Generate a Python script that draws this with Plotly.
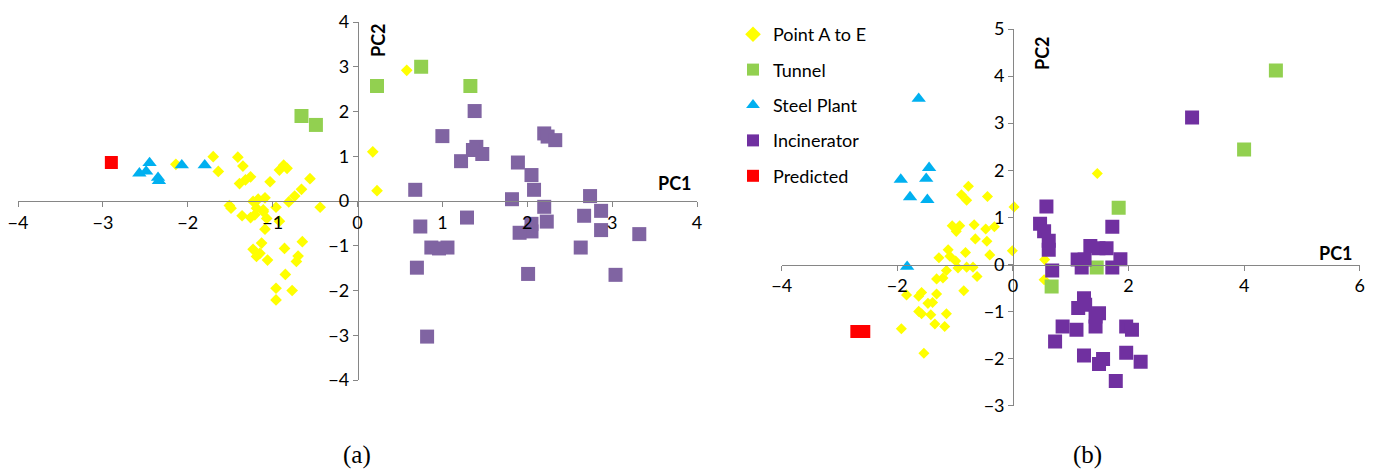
import plotly.graph_objects as go

# ---------------- Panel (a) data ----------------
a_pt_x = [-2.14, -1.70, -1.64, -1.41, -1.35, -1.39, -1.32, -1.26, -1.03, -0.92, -0.87, -0.83,
          -0.56, -0.66, -0.74, -0.81, -0.44, -1.23, -1.17, -1.09, -1.51, -1.49, -0.96, -1.36,
          -1.26, -1.21, -1.11, -1.07, -1.09, -0.92, -1.23, -1.19, -1.13, -1.15, -1.06, -0.86,
          -0.65, -0.70, -0.72, -0.85, -0.96, -0.77, -0.96, 0.18, 0.23, 0.58, -1.19, -1.11]
a_pt_y = [0.82, 0.99, 0.66, 0.98, 0.78, 0.39, 0.47, 0.54, 0.43, 0.69, 0.80, 0.73,
          0.50, 0.26, 0.11, -0.02, -0.14, -0.01, 0.04, 0.07, -0.10, -0.16, -0.14, -0.33,
          -0.37, -0.31, -0.24, -0.39, -0.63, -0.45, -1.08, -1.24, -0.94, -1.17, -1.32, -1.06,
          -0.91, -1.23, -1.35, -1.64, -1.95, -2.00, -2.21, 1.10, 0.23, 2.92, -0.16, -0.20]

a_tun_x = [-0.66, -0.49, 0.75, 0.23, 1.33]
a_tun_y = [1.90, 1.70, 3.00, 2.57, 2.57]

a_stl_x = [-2.57, -2.49, -2.45, -2.35, -2.34, -2.07, -1.80]
a_stl_y = [0.62, 0.66, 0.85, 0.52, 0.45, 0.80, 0.80]

a_inc_x = [1.38, 1.00, 1.40, 1.36, 1.47, 1.22, 2.20, 2.24, 2.33, 1.89, 2.05, 2.08, 0.68, 1.82,
           2.74, 2.20, 2.23, 2.67, 2.87, 1.29, 0.74, 2.05, 2.05, 1.91, 2.87, 3.32, 0.87, 0.96,
           1.06, 2.63, 0.70, 2.01, 3.04, 0.82]
a_inc_y = [2.01, 1.45, 1.21, 1.14, 1.05, 0.89, 1.51, 1.44, 1.36, 0.86, 0.58, 0.25, 0.25, 0.04,
           0.11, -0.13, -0.46, -0.33, -0.22, -0.37, -0.57, -0.51, -0.68, -0.71, -0.65, -0.74, -1.04, -1.06,
           -1.04, -1.04, -1.49, -1.63, -1.65, -3.03]

a_pred_x = [-2.90]
a_pred_y = [0.86]

# ---------------- Panel (b) data ----------------
b_pt_x = [0.02, -0.01, 0.55, 0.54, 1.46, -0.77, -0.89, -0.80, -0.44, -1.05, -0.92, -0.98, -0.67,
          -0.47, -0.32, -0.65, -0.45, -0.40, -0.82, -1.12, -1.28, -1.09, -0.99, -0.95, -0.80,
          -0.69, -0.62, -1.15, -1.32, -1.21, -0.85, -1.84, -1.63, -1.58, -1.32, -1.47, -1.39,
          -1.63, -1.58, -1.42, -1.15, -1.35, -1.18, -1.93, -1.54]
b_pt_y = [1.22, 0.29, 0.10, -0.33, 1.93, 1.66, 1.48, 1.36, 1.44, 0.82, 0.82, 0.70, 0.84,
          0.75, 0.80, 0.54, 0.49, 0.20, 0.25, 0.31, 0.14, 0.17, 0.07, -0.08, -0.06,
          -0.06, -0.26, -0.13, -0.31, -0.29, -0.56, -0.65, -0.68, -0.60, -0.63, -0.83, -0.81,
          -1.00, -1.05, -1.07, -1.05, -1.27, -1.32, -1.37, -1.89]

b_tun_x = [4.55, 4.00, 1.83, 1.45, 0.67]
b_tun_y = [4.12, 2.44, 1.20, -0.07, -0.47]

b_stl_x = [-1.63, -1.94, -1.45, -1.50, -1.78, -1.48, -1.83]
b_stl_y = [3.52, 1.80, 2.05, 1.82, 1.43, 1.37, -0.05]

b_inc_x = [3.10, 0.58, 0.47, 0.54, 0.62, 0.62, 0.68, 1.72, 1.34, 1.48, 1.62, 1.12, 1.24, 1.19,
           1.86, 1.72, 1.23, 1.13, 1.25, 1.49, 1.43, 1.43, 0.86, 1.10, 1.96, 2.06, 0.73, 1.23,
           1.56, 1.49, 1.96, 2.21, 1.78]
b_inc_y = [3.12, 1.23, 0.86, 0.70, 0.50, 0.31, -0.13, 0.80, 0.39, 0.34, 0.34, 0.10, 0.10, -0.07,
           0.11, -0.07, -0.72, -0.93, -0.86, -1.04, -1.11, -1.32, -1.32, -1.39, -1.32, -1.39, -1.64, -1.94,
           -2.01, -2.12, -1.88, -2.07, -2.48]

b_pred_x = [-2.70, -2.58]
b_pred_y = [-1.43, -1.43]

series_names = ["Point A to E", "Tunnel", "Steel Plant", "Incinerator", "Predicted"]

YEL = "#FFFF00"
GRN = "#92D050"
BLU = "#00B0F0"
PUR_A = "#8064A2"
PUR_B = "#7030A0"
RED = "#FF0000"

fig = go.Figure()

def add(x, y, name, sym, color, size, xa, ya, legend, group):
    fig.add_trace(go.Scatter(
        x=x, y=y, mode="markers", name=name, xaxis=xa, yaxis=ya,
        legendgroup=group, showlegend=legend,
        marker=dict(symbol=sym, color=color, size=size, line=dict(width=0))))

# panel a
add(a_pt_x, a_pt_y, series_names[0], "diamond", YEL, 9, "x", "y", False, "g1")
add(a_tun_x, a_tun_y, series_names[1], "square", GRN, 14, "x", "y", False, "g2")
add(a_stl_x, a_stl_y, series_names[2], "triangle-up", BLU, 12.5, "x", "y", False, "g3")
add(a_inc_x, a_inc_y, series_names[3], "square", PUR_A, 14, "x", "y", False, "g4")
add(a_pred_x, a_pred_y, series_names[4], "square", RED, 13, "x", "y", False, "g5")
# panel b
add(b_pt_x, b_pt_y, series_names[0], "diamond", YEL, 8.5, "x2", "y2", True, "g1")
add(b_tun_x, b_tun_y, series_names[1], "square", GRN, 14, "x2", "y2", True, "g2")
add(b_stl_x, b_stl_y, series_names[2], "triangle-up", BLU, 12.5, "x2", "y2", True, "g3")
add(b_inc_x, b_inc_y, series_names[3], "square", PUR_B, 14, "x2", "y2", True, "g4")
add(b_pred_x, b_pred_y, series_names[4], "square", RED, 13, "x2", "y2", True, "g5")

# page body has an 8px margin: figure is placed at (8, 8)
OFF = 8
W, H = 1373 - OFF, 470 - OFF


def px(x):
    return (x - OFF) / W


def py(y):
    return 1 - (y - OFF) / H


tickfont = dict(family="Lato, Open Sans, sans-serif", size=18, color="black")
axis_common = dict(showgrid=False, zeroline=False, showline=True, linecolor="#868686",
                   linewidth=1.3, ticks="outside", ticklen=5, tickcolor="#868686",
                   tickfont=tickfont, automargin=False, fixedrange=True,
                   ticklabeloverflow="allow")

fig.update_layout(
    width=W, height=H, margin=dict(l=0, r=0, t=0, b=0),
    plot_bgcolor="white", paper_bgcolor="white",
    xaxis=dict(domain=[px(18), px(697)], range=[-4, 4], dtick=1, anchor="free",
               position=py(201), **axis_common),
    yaxis=dict(domain=[py(380), py(22)], range=[-4, 4], dtick=1, anchor="free",
               position=px(358), **axis_common),
    xaxis2=dict(domain=[px(781.7), px(1359.7)], range=[-4, 6], dtick=2, anchor="free",
                position=py(264.5), **axis_common),
    yaxis2=dict(domain=[py(405.5), py(29)], range=[-3, 5], dtick=1, anchor="free",
                position=px(1013.3), **axis_common),
    legend=dict(x=px(733), y=py(16), xanchor="left", yanchor="top",
                font=dict(family="Lato, Open Sans, sans-serif", size=18, color="black"),
                tracegroupgap=9, bgcolor="rgba(0,0,0,0)", itemsizing="constant"),
    showlegend=True,
)

lab = dict(family="Lato, Open Sans, sans-serif", size=18, color="black")
annos = [
    dict(text="<b>PC2</b>", x=px(378), y=py(40), textangle=-90),
    dict(text="<b>PC1</b>", x=px(675), y=py(183)),
    dict(text="<b>PC2</b>", x=px(1042), y=py(53), textangle=-90),
    dict(text="<b>PC1</b>", x=px(1336), y=py(253)),
]
for a in annos:
    fig.add_annotation(xref="paper", yref="paper", showarrow=False, font=lab,
                       xanchor="center", yanchor="middle", **a)
for t, xp in [("(a)", 357), ("(b)", 1087)]:
    fig.add_annotation(text=t, xref="paper", yref="paper", x=px(xp), y=py(455),
                       showarrow=False, xanchor="center", yanchor="middle",
                       font=dict(family="Liberation Serif, serif", size=25, color="black"))

fig.write_html("out.html")
